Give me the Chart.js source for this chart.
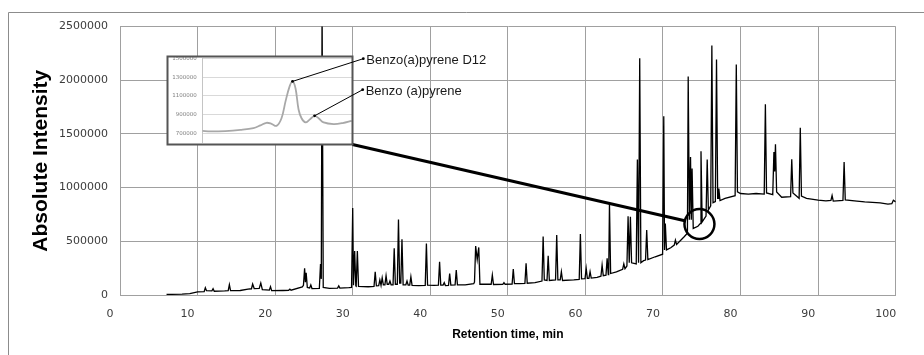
<!DOCTYPE html>
<html>
<head>
<meta charset="utf-8">
<script src="https://cdn.jsdelivr.net/npm/chart.js@4.4.1/dist/chart.umd.min.js"></script>
<style>
    body { margin: 0; background: #fff; }
    #wrap { position: relative; width: 924px; height: 355px; overflow: hidden; }
    #chart { position: absolute; left: 0; top: 0; }
    #inset { position: absolute; left: 160px; top: 48px; }
</style>
</head>
<body>
<div id="wrap">
    <canvas id="chart" width="924" height="355"></canvas>
    <canvas id="inset" width="350" height="105"></canvas>
</div>
<script>
// chromatogram trace (min / counts)
const retTime = [
    6.0, 8.0, 9.0, 10.0, 10.85, 11.0, 11.15, 11.85, 12.0, 12.15,
    13.5, 13.95, 14.1, 14.25, 15.5, 16.5, 16.95, 17.1, 17.3, 17.95,
    18.15, 18.35, 19.25, 19.4, 19.55, 21.0, 21.75, 21.9, 22.05, 23.5,
    23.65, 23.8, 23.9, 24.0, 24.15, 24.45, 24.6, 24.75, 25.7, 25.85,
    25.95, 26.05, 26.2, 27.0, 28.05, 28.2, 28.35, 29.5, 29.85, 30.0,
    30.1, 30.25, 30.4, 30.45, 30.6, 30.75, 32.0, 32.75, 32.9, 33.05,
    33.35, 33.5, 33.65, 33.8, 33.95, 34.15, 34.3, 34.45, 34.65, 34.8,
    34.95, 35.2, 35.35, 35.5, 35.75, 35.9, 36.05, 36.2, 36.35, 36.5,
    36.85, 37.0, 37.15, 37.35, 37.5, 37.65, 38.5, 39.35, 39.5, 39.65,
    40.5, 41.05, 41.2, 41.35, 41.65, 41.8, 41.95, 42.35, 42.5, 42.65,
    43.2, 43.35, 43.5, 44.5, 45.6, 45.7, 45.85, 46.05, 46.25, 46.4,
    47.85, 48.0, 48.15, 49.35, 49.5, 49.65, 50.55, 50.7, 50.85, 51.5,
    52.2, 52.35, 52.5, 53.5, 54.4, 54.55, 54.7, 55.05, 55.2, 55.35,
    56.15, 56.3, 56.45, 56.75, 56.9, 57.05, 58.5, 59.2, 59.35, 59.5,
    59.95, 60.1, 60.25, 60.45, 60.6, 60.75, 61.5, 62.0, 62.15, 62.3,
    62.65, 62.8, 62.95, 63.0, 63.1, 63.25, 64.0, 64.8, 64.95, 65.1,
    65.35, 65.5, 65.65, 65.8, 65.95, 66.55, 66.7, 66.85, 67.0, 67.15,
    67.5, 67.75, 67.9, 68.05, 69.0, 69.95, 70.1, 70.2, 70.3, 70.45,
    71.0, 71.45, 71.6, 71.75, 72.7, 73.15, 73.25, 73.4, 73.55, 73.65,
    73.75, 73.9, 74.5, 74.8, 74.9, 75.05, 75.55, 75.7, 75.85, 76.15,
    76.3, 76.45, 76.75, 76.9, 77.05, 77.1, 77.2, 77.35, 78.0, 79.3,
    79.45, 79.6, 80.0, 81.0, 82.0, 83.05, 83.2, 83.35, 84.15, 84.3,
    84.4, 84.5, 84.65, 85.3, 86.45, 86.6, 86.75, 87.55, 87.7, 87.85,
    88.5, 90.0, 91.0, 91.65, 91.8, 91.95, 93.2, 93.35, 93.5, 95.0,
    96.0, 98.0, 99.0, 99.5, 99.7, 100.0
];
const intensity = [
    5000, 8000, 12000, 30000, 32000, 68000, 40000, 38000, 58000, 35000,
    38000, 40000, 96000, 40000, 42000, 55000, 58000, 102000, 60000, 62000,
    111000, 50000, 45000, 77000, 40000, 42000, 44000, 55000, 45000, 75000,
    90000, 248000, 120000, 207000, 70000, 65000, 93000, 60000, 62000, 288000,
    150000, 2700000, 70000, 62000, 64000, 85000, 64000, 68000, 70000, 811000,
    90000, 409000, 85000, 82000, 409000, 80000, 77000, 80000, 217000, 85000,
    88000, 140000, 90000, 160000, 95000, 95000, 180000, 100000, 100000, 130000,
    95000, 95000, 434000, 100000, 100000, 704000, 110000, 110000, 518000, 95000,
    95000, 130000, 92000, 92000, 170000, 90000, 88000, 90000, 480000, 92000,
    90000, 92000, 310000, 92000, 92000, 115000, 88000, 90000, 200000, 92000,
    95000, 232000, 95000, 95000, 105000, 120000, 455000, 330000, 443000, 100000,
    100000, 186000, 98000, 100000, 115000, 100000, 102000, 242000, 105000, 105000,
    108000, 295000, 110000, 115000, 130000, 545000, 140000, 135000, 365000, 135000,
    140000, 558000, 140000, 140000, 217000, 135000, 140000, 145000, 567000, 150000,
    152000, 248000, 155000, 155000, 217000, 158000, 165000, 175000, 279000, 180000,
    185000, 341000, 190000, 195000, 852000, 200000, 215000, 240000, 290000, 245000,
    270000, 734000, 300000, 728000, 300000, 290000, 1261000, 300000, 2205000, 300000,
    320000, 325000, 604000, 330000, 356000, 380000, 1664000, 420000, 666000, 420000,
    440000, 465000, 511000, 470000, 540000, 575000, 2035000, 700000, 1285000, 700000,
    1177000, 620000, 640000, 665000, 1338000, 680000, 735000, 1261000, 790000, 830000,
    2323000, 860000, 870000, 2193000, 900000, 900000, 992000, 880000, 900000, 925000,
    2147000, 960000, 945000, 940000, 945000, 940000, 1775000, 950000, 935000, 1332000,
    1150000, 1403000, 960000, 910000, 915000, 1264000, 950000, 900000, 1558000, 920000,
    899000, 883000, 876000, 880000, 926000, 875000, 880000, 1239000, 885000, 875000,
    867000, 858000, 846000, 850000, 883000, 867000
];

const xTickValues = [0, 10, 20, 30, 40, 50, 60, 70, 80, 90, 100];
const yTickValues = [0, 500000, 1000000, 1500000, 2000000, 2500000];

// zoomed window around the benzo(a)pyrene peaks
const insetTime = [
    74.60, 74.68, 74.83, 74.98, 75.11, 75.18, 75.24, 75.29, 75.34, 75.39,
    75.43, 75.47, 75.50, 75.53, 75.56, 75.59, 75.63, 75.67, 75.72, 75.76,
    75.81, 75.91, 76.00, 76.09
];
const insetIntensity = [
    725000, 718000, 722000, 735000, 754000, 783000, 811000, 800000, 778000, 860000,
    1041000, 1200000, 1256000, 1180000, 954000, 860000, 815000, 845000, 886000, 860000,
    815000, 797000, 808000, 832000
];
const insetTickValues = [700000, 900000, 1100000, 1300000, 1500000];

const peakLabels = ["Benzo(a)pyrene D12", "Benzo (a)pyrene"];
const peakTimes = [75.50, 75.72];
const peakLevels = [1256000, 886000];

// where the zoom circle sits on the main trace
const zoomTime = 74.7;
const zoomLevel = 660000;

const gridColor = '#a0a0a0';
const tickColor = '#3c3c3c';
const INSET = { left: 160, top: 48, boxL: 7.5, boxT: 8.5, boxR: 192.5, boxB: 96.5 };

const framePlugin =
    {
        id: 'frame',
        beforeDraw(chart)
        {
            const ctx = chart.ctx;
            ctx.save();
            ctx.strokeStyle = '#8c8c8c';
            ctx.lineWidth = 1;
            ctx.beginPath();
            ctx.moveTo(8.5, 355);
            ctx.lineTo(8.5, 12.5);
            ctx.lineTo(924, 12.5);
            ctx.stroke();
            ctx.restore();
        },
        afterDatasetsDraw(chart)
        {
            const ctx = chart.ctx;
            const cx = chart.scales.x.getPixelForValue(zoomTime);
            const cy = chart.scales.y.getPixelForValue(zoomLevel);
            const r = 15;
            const sx = INSET.left + INSET.boxR, sy = INSET.top + INSET.boxB;
            const d = Math.hypot(cx - sx, cy - sy);
            ctx.save();
            ctx.strokeStyle = '#000';
            ctx.lineWidth = 3;
            ctx.beginPath();
            ctx.moveTo(sx, sy);
            ctx.lineTo(cx - (cx - sx) * r / d, cy - (cy - sy) * r / d);
            ctx.stroke();
            ctx.lineWidth = 2.5;
            ctx.beginPath();
            ctx.arc(cx, cy, r, 0, Math.PI * 2);
            ctx.stroke();
            ctx.restore();
        }
    };

const mainChart = new Chart(document.getElementById("chart"),
    {
        type: 'line',
        data: {
            datasets: [{
                data: retTime.map((t, i) => ({ x: t, y: intensity[i] })),
                borderColor: '#000',
                borderWidth: 1.3,
                pointRadius: 0,
                tension: 0
            }]
        },
        options: {
            responsive: false,
            animation: false,
            layout: { padding: { left: 8, top: 26.5, right: 28.3, bottom: 0 } },
            plugins: { legend: { display: false }, tooltip: { enabled: false } },
            scales: {
                x: {
                    type: 'linear',
                    min: 0,
                    max: 100,
                    afterBuildTicks: s => { s.ticks = xTickValues.map(v => ({ value: v })); },
                    afterFit: s => { s.height = 60; },
                    grid: { color: gridColor, drawTicks: false },
                    border: { color: gridColor },
                    ticks: {
                        padding: 13,
                        labelOffset: -10,
                        autoSkip: false,
                        maxRotation: 0,
                        color: tickColor,
                        font: { family: 'DejaVu Sans', size: 11 },
                        callback: v => String(v)
                    },
                    title: {
                        display: true,
                        text: 'Retention time, min',
                        color: '#000',
                        font: { family: 'Liberation Sans', size: 12, weight: 'bold' },
                        padding: { top: 0, bottom: 13 }
                    }
                },
                y: {
                    min: 0,
                    max: 2500000,
                    afterBuildTicks: s => { s.ticks = yTickValues.map(v => ({ value: v })); },
                    afterFit: s => { s.width = 112; },
                    grid: { color: gridColor, drawTicks: false },
                    border: { color: gridColor },
                    ticks: {
                        padding: 12,
                        color: tickColor,
                        font: { family: 'DejaVu Sans', size: 11 },
                        callback: v => String(v)
                    },
                    title: {
                        display: true,
                        text: 'Absolute Intensity',
                        color: '#000',
                        font: { family: 'Liberation Sans', size: 21, weight: 'bold' },
                        padding: { top: 21, bottom: 0 }
                    }
                }
            }
        },
        plugins: [framePlugin]
    });

const insetPlugin =
    {
        id: 'insetBox',
        beforeDraw(chart)
        {
            const ctx = chart.ctx;
            ctx.save();
            ctx.fillStyle = '#fff';
            ctx.fillRect(INSET.boxL, INSET.boxT, INSET.boxR - INSET.boxL, INSET.boxB - INSET.boxT);
            ctx.restore();
        },
        afterDraw(chart)
        {
            const ctx = chart.ctx;
            const anchors = [[203.3, 10.7], [202.7, 41.7]];
            ctx.save();
            ctx.strokeStyle = '#555';
            ctx.lineWidth = 2;
            ctx.strokeRect(INSET.boxL, INSET.boxT, INSET.boxR - INSET.boxL, INSET.boxB - INSET.boxT);

            ctx.strokeStyle = '#000';
            ctx.fillStyle = '#000';
            ctx.lineWidth = 1;
            ctx.font = '13px "Liberation Sans"';
            ctx.textBaseline = 'middle';
            peakLabels.forEach((label, i) =>
            {
                const px = chart.scales.x.getPixelForValue(peakTimes[i]);
                const py = chart.scales.y.getPixelForValue(peakLevels[i]);
                const [ax, ay] = anchors[i];
                ctx.beginPath();
                ctx.moveTo(px, py);
                ctx.lineTo(ax, ay);
                ctx.stroke();
                [[px, py], [ax, ay]].forEach(([dx, dy]) =>
                {
                    ctx.beginPath();
                    ctx.arc(dx, dy, 1.4, 0, Math.PI * 2);
                    ctx.fill();
                });
                ctx.fillStyle = '#1a1a1a';
                ctx.fillText(label, ax + 3, ay + 2);
                ctx.fillStyle = '#000';
            });
            ctx.restore();
        }
    };

const insetChart = new Chart(document.getElementById("inset"),
    {
        type: 'line',
        data: {
            datasets: [{
                data: insetTime.map((t, i) => ({ x: t, y: insetIntensity[i] })),
                borderColor: '#a8a8a8',
                borderWidth: 1.8,
                pointRadius: 0,
                tension: 0.35
            }]
        },
        options: {
            responsive: false,
            animation: false,
            layout: { padding: { left: 8, top: 10.7, right: 157.3, bottom: 10.6 } },
            plugins: { legend: { display: false }, tooltip: { enabled: false } },
            scales: {
                x: { type: 'linear', min: 74.6, max: 76.1, display: false },
                y: {
                    min: 600000,
                    max: 1500000,
                    afterBuildTicks: s => { s.ticks = insetTickValues.map(v => ({ value: v })); },
                    afterFit: s => { s.width = 34.3; },
                    grid: { color: '#d9d9d9', drawTicks: false },
                    border: { color: '#c4c4c4' },
                    ticks: {
                        padding: 5.6,
                        color: '#808080',
                        font: { family: 'DejaVu Sans', size: 5.5 },
                        callback: v => String(v)
                    }
                }
            }
        },
        plugins: [insetPlugin]
    });
</script>
</body>
</html>
